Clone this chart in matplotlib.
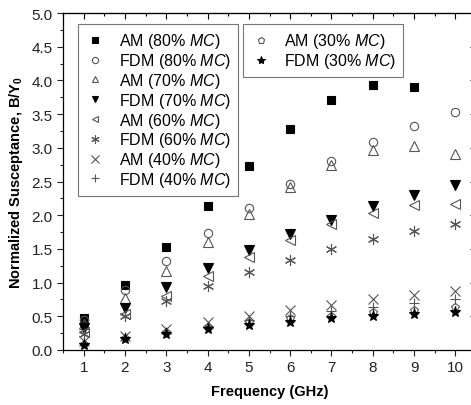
import numpy as np
import matplotlib
matplotlib.use("Agg")
import matplotlib.pyplot as plt
import matplotlib.ticker as ticker

plt.rcParams['font.family'] = ['Liberation Sans', 'DejaVu Sans']
plt.rcParams['mathtext.fontset'] = 'custom'
plt.rcParams['mathtext.rm'] = 'Liberation Sans'
plt.rcParams['mathtext.it'] = 'Liberation Sans:italic'
plt.rcParams['mathtext.bf'] = 'Liberation Sans:bold'

freq = [1, 2, 3, 4, 5, 6, 7, 8, 9, 10]

am80 = [0.47, 0.96, 1.53, 2.13, 2.73, 3.28, 3.71, 3.93, 3.90, np.nan]
fdm80 = [0.44, 0.89, 1.32, 1.73, 2.10, 2.47, 2.80, 3.08, 3.32, 3.53]
am70 = [0.38, 0.77, 1.17, 1.60, 2.02, 2.42, 2.75, 2.96, 3.03, 2.91]
fdm70 = [0.33, 0.63, 0.93, 1.21, 1.48, 1.72, 1.93, 2.13, 2.30, 2.45]
am60 = [0.27, 0.53, 0.80, 1.10, 1.38, 1.63, 1.87, 2.04, 2.15, 2.17]
fdm60 = [0.24, 0.50, 0.73, 0.95, 1.15, 1.34, 1.50, 1.64, 1.76, 1.87]
am40 = [0.13, 0.21, 0.31, 0.41, 0.50, 0.59, 0.67, 0.75, 0.82, 0.88]
fdm40 = [0.10, 0.19, 0.27, 0.36, 0.44, 0.51, 0.58, 0.64, 0.70, 0.75]
am30 = [0.09, 0.18, 0.26, 0.34, 0.41, 0.47, 0.51, 0.56, 0.60, 0.64]
fdm30 = [0.08, 0.16, 0.24, 0.31, 0.37, 0.42, 0.47, 0.51, 0.54, 0.57]

gray = '#555555'

fig = plt.figure(figsize=(4.71, 4.06), dpi=100)
ax = fig.add_axes([63/471, 55/406, 413/471, 337/406])

def mc(name, pct):
    return name + ' (' + pct + r'% $\it{MC}$)'

# (values, marker, filled, size, label)
series = [
    (am80, 's', True, 5.5, mc('AM', '80')),
    (fdm80, 'o', False, 6, mc('FDM', '80')),
    (am70, '^', False, 6.5, mc('AM', '70')),
    (fdm70, 'v', True, 6.5, mc('FDM', '70')),
    (am60, '<', False, 6.5, mc('AM', '60')),
    (fdm60, (6, 2, 0), False, 8, mc('FDM', '60')),
    (am40, 'x', False, 7, mc('AM', '40')),
    (fdm40, '+', False, 7, mc('FDM', '40')),
    (am30, 'p', False, 6, mc('AM', '30')),
    (fdm30, '*', True, 8, mc('FDM', '30')),
]

handles = []
for vals, m, filled, s, lab in series:
    if filled:
        h, = ax.plot(freq, vals, linestyle='none', marker=m, ms=s,
                     mfc='black', mec='black', mew=0.8, label=lab)
    else:
        h, = ax.plot(freq, vals, linestyle='none', marker=m, ms=s,
                     mfc='none', mec=gray, mew=0.8, label=lab)
    handles.append(h)

ax.set_xlim(0.5, 10.5)
ax.set_ylim(0, 5.0)
ax.xaxis.set_major_locator(ticker.MultipleLocator(1))
ax.xaxis.set_minor_locator(ticker.MultipleLocator(0.5))
ax.yaxis.set_major_locator(ticker.MultipleLocator(0.5))
ax.yaxis.set_minor_locator(ticker.MultipleLocator(0.25))
ax.yaxis.set_major_formatter(ticker.FormatStrFormatter('%.1f'))

ax.tick_params(which='both', direction='out', top=False, right=False, labelsize=11,
               width=0.8, colors='#222222')
ax.tick_params(which='major', length=4)
ax.tick_params(which='minor', length=2.5)

sx = ax.secondary_xaxis('top')
sx.xaxis.set_major_locator(ticker.MultipleLocator(1))
sx.xaxis.set_minor_locator(ticker.MultipleLocator(0.5))
sx.tick_params(which='both', direction='in', labeltop=False, width=0.8)
sx.tick_params(which='major', length=4)
sx.tick_params(which='minor', length=2.5)
sy = ax.secondary_yaxis('right')
sy.yaxis.set_major_locator(ticker.MultipleLocator(0.5))
sy.yaxis.set_minor_locator(ticker.MultipleLocator(0.25))
sy.tick_params(which='both', direction='in', labelright=False, width=0.8)
sy.tick_params(which='major', length=4)
sy.tick_params(which='minor', length=2.5)

for sp in ax.spines.values():
    sp.set_linewidth(0.9)

ax.set_xlabel('Frequency (GHz)', fontsize=10.5, fontweight='bold', labelpad=7)
ax.set_ylabel(r'Normalized Susceptance, B/Y$_\mathbf{0}$', fontsize=10.5,
              fontweight='bold', labelpad=5)

leg_kw = dict(loc='upper left', borderaxespad=0, fontsize=11.5, frameon=True,
              fancybox=False, edgecolor=gray, labelspacing=0.05,
              handletextpad=0.8, handlelength=1.3, borderpad=0.45,
              markerscale=0.75)
leg1 = ax.legend(handles=handles[:8], bbox_to_anchor=(0.036, 0.967), **leg_kw)
leg1.get_frame().set_linewidth(0.8)
ax.add_artist(leg1)
leg2 = ax.legend(handles=handles[8:], bbox_to_anchor=(0.436, 0.967), **leg_kw)
leg2.get_frame().set_linewidth(0.8)

fig.savefig('out.png', dpi=100)
